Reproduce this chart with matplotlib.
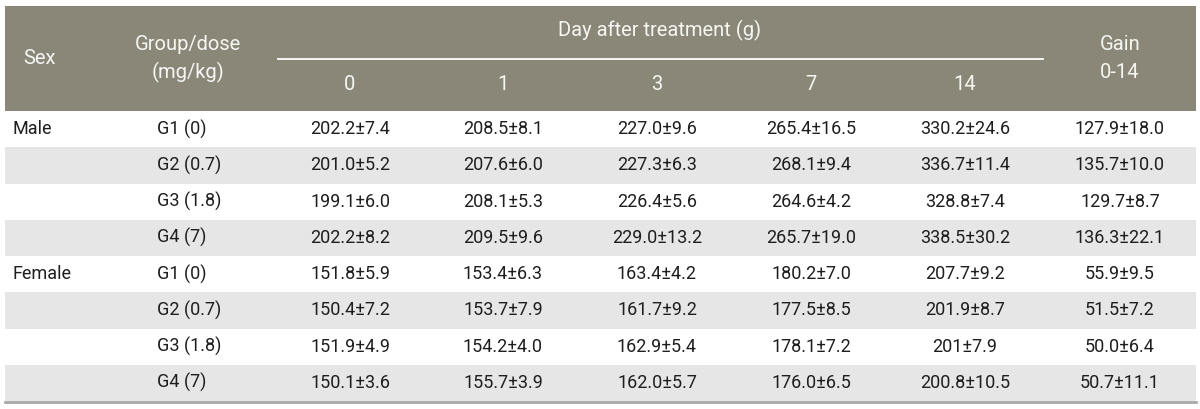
import matplotlib.pyplot as plt
from matplotlib.patches import Rectangle

# table content
sexes = ["Male", "", "", "", "Female", "", "", ""]
groups = ["G1 (0)", "G2 (0.7)", "G3 (1.8)", "G4 (7)",
          "G1 (0)", "G2 (0.7)", "G3 (1.8)", "G4 (7)"]
days = ["0", "1", "3", "7", "14"]
day0 = ["202.2±7.4", "201.0±5.2", "199.1±6.0", "202.2±8.2",
        "151.8±5.9", "150.4±7.2", "151.9±4.9", "150.1±3.6"]
day1 = ["208.5±8.1", "207.6±6.0", "208.1±5.3", "209.5±9.6",
        "153.4±6.3", "153.7±7.9", "154.2±4.0", "155.7±3.9"]
day3 = ["227.0±9.6", "227.3±6.3", "226.4±5.6", "229.0±13.2",
        "163.4±4.2", "161.7±9.2", "162.9±5.4", "162.0±5.7"]
day7 = ["265.4±16.5", "268.1±9.4", "264.6±4.2", "265.7±19.0",
        "180.2±7.0", "177.5±8.5", "178.1±7.2", "176.0±6.5"]
day14 = ["330.2±24.6", "336.7±11.4", "328.8±7.4", "338.5±30.2",
         "207.7±9.2", "201.9±8.7", "201±7.9", "200.8±10.5"]
gain = ["127.9±18.0", "135.7±10.0", "129.7±8.7", "136.3±22.1",
        "55.9±9.5", "51.5±7.2", "50.0±6.4", "50.7±11.1"]

plt.rcParams['font.family'] = ['Roboto', 'DejaVu Sans']

fig = plt.figure(figsize=(12, 4.09), dpi=100)
ax = fig.add_axes([0, 0, 1, 1])
ax.set_xlim(0, 1200)
ax.set_ylim(409, 0)
ax.axis("off")

head_c = "#8a8779"
stripe_c = "#e6e6e6"
txt_c = "#1e1e1e"
left, right = 5, 1196
head_top, head_bot = 6, 111
row_h = 36.25
fs = 13

ax.add_patch(Rectangle((left, head_top), right - left, head_bot - head_top,
                       color=head_c, lw=0))
ax.plot([278, 1043], [59, 59], color="white", lw=1.3)

hk = dict(color="#f6f6f2", fontsize=14.5, ha="center", va="center")
ax.text(40, 58, "Sex", **hk)
ax.text(188, 44, "Group/dose", **hk)
ax.text(188, 72, "(mg/kg)", **hk)
ax.text(660, 30, "Day after treatment (g)", **hk)
ax.text(1120, 45, "Gain", **hk)
ax.text(1120, 72, "0-14", **hk)
col_x = [350, 503, 657, 811, 965]
for x, d in zip(col_x, days):
    ax.text(x, 85, d, **hk)

cols = [day0, day1, day3, day7, day14, gain]
cx = col_x + [1120]
for i in range(len(groups)):
    y0 = head_bot + i * row_h
    if i % 2 == 1:
        ax.add_patch(Rectangle((left, y0), right - left, row_h,
                               color=stripe_c, lw=0))
    yc = y0 + row_h / 2
    ax.text(12, yc, sexes[i], color=txt_c, fontsize=fs, ha="left", va="center")
    ax.text(157, yc, groups[i], color=txt_c, fontsize=fs, ha="left", va="center")
    for x, col in zip(cx, cols):
        ax.text(x, yc, col[i], color=txt_c, fontsize=fs, ha="center", va="center")

bot = head_bot + len(groups) * row_h
ax.plot([left, right], [bot + 1, bot + 1], color="#a9a9a9", lw=2)

fig.savefig("out.png", dpi=100)
